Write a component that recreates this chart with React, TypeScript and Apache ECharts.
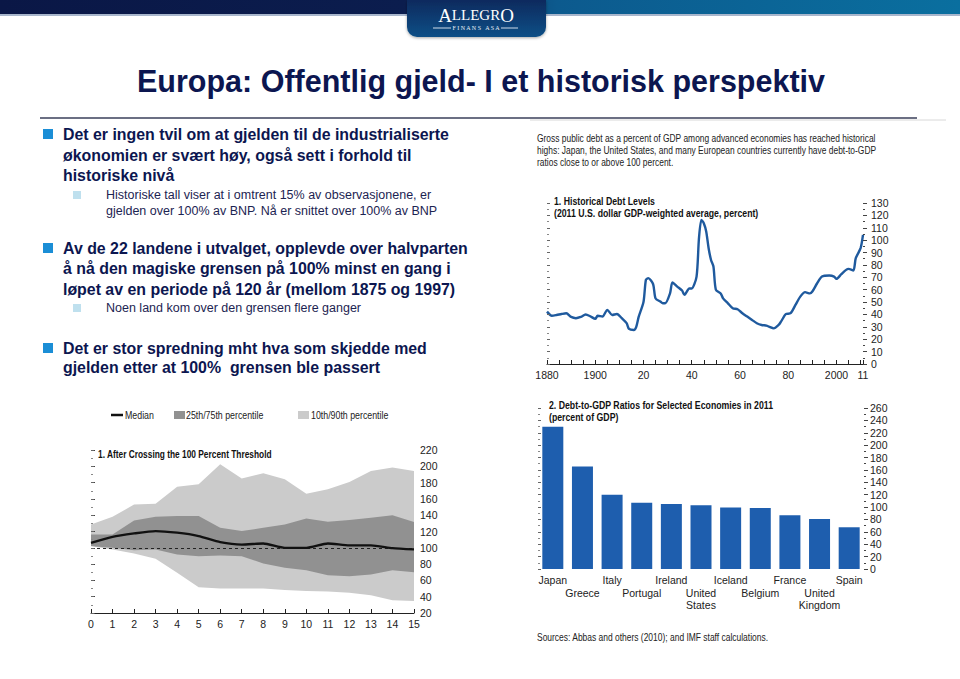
import React, { useEffect, useRef } from "react";
import * as echarts from "echarts";

// ---------- DATA ----------
const histYears = [1880,1882,1884,1886,1888,1890,1892,1894,1896,1898,1900,1901,1903,1905,1907,1909,1911,1913,1914,1916,1917,1918,1920,1921,1922,1924,1925,1927,1928,1929,1931,1932,1934,1936,1937,1939,1940,1942,1943,1944,1945,1946,1947,1948,1949,1950,1952,1953,1955,1957,1959,1961,1963,1965,1967,1969,1971,1972,1974,1976,1977,1979,1981,1983,1985,1987,1989,1990,1992,1994,1997,1999,2000,2002,2004,2005,2007,2008,2010,2011];
const histDebt = [42.3,39,39.6,40.4,41,38,37,38,40,38.5,36.4,39,38.3,43.7,39.6,40.4,37,33,28.3,27.5,30,38,50,68,69.3,64.4,53,50.4,49,49,57,65.8,62.5,59.3,55.8,61,61,70.6,101.6,116.4,113.7,107,93.5,84,78.7,60,57,53,49,45,44.2,41,38.3,35.6,32.9,31.5,31,30.2,28.8,31.5,34.2,40.2,41,47.7,54.4,58,57,58.5,65.2,70.6,71.4,70.6,68.7,72.5,76,76.8,75.5,85.4,93.5,104.3];
const histLabelValues = [1880, 1900, 1920, 1940, 1960, 1980, 2000, 2011];
const histLabelTexts = ["1880", "1900", "20", "40", "60", "80", "2000", "11"];

const yearsAfter = [0,1,2,3,4,5,6,7,8,9,10,11,12,13,14,15];
const p90 = [128.7,138,153,154,175,178,202.6,185,191.4,184,166.4,171.8,180.8,194.3,198.4,194.3];
const p75 = [116.4,116.4,133.6,138,139,139,124.6,120.5,124.6,128.7,136,132,134,137,139.8,131.6];
const median = [106,113.5,117.6,120.5,118.5,114.4,107,104,105.3,100,100,105.3,102.9,102.9,99.6,98];
const p25 = [102,100,97,98,91.8,89.7,90.6,89.7,80.7,75.4,72.5,66.4,65.2,67.2,72.5,70];
const p10 = [102,98,93,86.5,69.3,51.6,50,50,50,48.3,47,46.3,44.7,41.8,35.6,34.8];

const countries = ["Japan","Greece","Italy","Portugal","Ireland","United States","Iceland","Belgium","France","United Kingdom","Spain"];
const debt2011 = [229.8,165.4,120.1,106.8,105.0,102.9,99.2,98.5,86.8,80.8,67.4];

// ---------- STYLE ----------
const CF = "'Liberation Sans', Arial, sans-serif";
const SF = "'Liberation Sans', Arial, sans-serif";
const NAVY = "#0c1650";
const LIGHT = "#cbcbcb";
const DARK = "#919191";

function txt(text: string, x: number, y: number, size: number, opts: any = {}) {
  return {
    type: "text",
    x,
    y,
    scaleX: opts.scaleX || 1,
    silent: true,
    style: {
      text,
      fontSize: size,
      fontFamily: opts.family || SF,
      fontWeight: opts.bold ? "bold" : "normal",
      fill: opts.fill || NAVY,
      textAlign: opts.align || "left",
      textVerticalAlign: "middle",
    },
  };
}

export default function App() {
  const ref = useRef<HTMLDivElement>(null);
  useEffect(() => {
    if (!ref.current) return;
    const chart = echarts.init(ref.current, null, { renderer: "svg" });

    const labelStyle = { fontFamily: CF, fontSize: 10.5, color: "#222" };
    const tickLine = { color: "#444", width: 1 };

    const graphics: any[] = [];
    // header bar
    graphics.push({
      type: "rect",
      shape: { x: 0, y: 0, width: 960, height: 15 },
      style: {
        fill: new echarts.graphic.LinearGradient(0, 0, 1, 0, [
          { offset: 0, color: "#0a1746" },
          { offset: 0.42, color: "#0b1d4e" },
          { offset: 0.58, color: "#0c5a8e" },
          { offset: 1, color: "#0a6f9f" },
        ]),
      },
      silent: true,
    });
    graphics.push({
      type: "rect",
      shape: { x: 0, y: 14, width: 960, height: 2 },
      style: { fill: "#a8b6cc" },
      silent: true,
    });
    graphics.push({
      type: "rect",
      shape: { x: 407, y: 0, width: 139, height: 37, r: [0, 0, 10, 10] },
      style: {
        fill: new echarts.graphic.LinearGradient(0, 0, 0, 1, [
          { offset: 0, color: "#0f2a5e" },
          { offset: 1, color: "#0e4f86" },
        ]),
        shadowBlur: 3,
        shadowColor: "rgba(0,0,0,0.35)",
        shadowOffsetY: 1,
      },
      silent: true,
    });
    graphics.push({
      type: "text",
      x: 476,
      y: 15,
      silent: true,
      style: {
        text: "{a|A}{b|LLEGR}{a|O}",
        fontFamily: "'Liberation Serif', 'DejaVu Serif', serif",
        fill: "#ffffff",
        textAlign: "center",
        textVerticalAlign: "middle",
        rich: {
          a: { fontSize: 19, fill: "#ffffff", fontFamily: "'Liberation Serif', serif" },
          b: { fontSize: 15, fill: "#ffffff", fontFamily: "'Liberation Serif', serif" },
        },
      },
    });
    graphics.push({
      type: "text",
      x: 476,
      y: 28,
      silent: true,
      style: {
        text: "F I N A N S   A S A",
        fontSize: 6,
        fontFamily: "'Liberation Serif', serif",
        fill: "#e8eef6",
        textAlign: "center",
        textVerticalAlign: "middle",
      },
    });
    graphics.push({ type: "line", shape: { x1: 433, y1: 28, x2: 451, y2: 28 }, style: { stroke: "#d0dbe8", lineWidth: 1 }, silent: true });
    graphics.push({ type: "line", shape: { x1: 501, y1: 28, x2: 518, y2: 28 }, style: { stroke: "#d0dbe8", lineWidth: 1 }, silent: true });

    // title
    graphics.push(txt("Europa: Offentlig gjeld- I et historisk perspektiv", 481, 81, 30.5, { bold: true, align: "center" }));
    graphics.push({ type: "line", shape: { x1: 40, y1: 118, x2: 917, y2: 118 }, style: { stroke: "#3a3f5a", lineWidth: 1.5 }, silent: true });
    graphics.push({ type: "line", shape: { x1: 530, y1: 120, x2: 946, y2: 120 }, style: { stroke: "#d8d8d8", lineWidth: 1 }, silent: true });

    // bullets
    const mainBullet = (y: number) => ({
      type: "rect",
      shape: { x: 43, y: y - 5, width: 10, height: 10 },
      style: { fill: "#1b8ed6" },
      silent: true,
    });
    const subBullet = (y: number) => ({
      type: "rect",
      shape: { x: 73, y: y - 4, width: 8, height: 8 },
      style: { fill: "#bfe0ee" },
      silent: true,
    });
    const B = 15.9;
    graphics.push(mainBullet(134));
    graphics.push(txt("Det er ingen tvil om at gjelden til de industrialiserte", 63, 134, B, { bold: true }));
    graphics.push(txt("økonomien er svært høy, også sett i forhold til", 63, 155, B, { bold: true }));
    graphics.push(txt("historiske nivå", 63, 175, B, { bold: true }));
    graphics.push(subBullet(195));
    graphics.push(txt("Historiske tall viser at i omtrent 15% av observasjonene, er", 106, 195, 12.5, { fill: "#1c2452" }));
    graphics.push(txt("gjelden over 100% av BNP. Nå er snittet over 100% av BNP", 106, 211, 12.5, { fill: "#1c2452" }));
    graphics.push(mainBullet(248));
    graphics.push(txt("Av de 22 landene i utvalget, opplevde over halvparten", 63, 248, B, { bold: true }));
    graphics.push(txt("å nå den magiske grensen på 100% minst en gang i", 63, 268, B, { bold: true }));
    graphics.push(txt("løpet av en periode på 120 år (mellom 1875 og 1997)", 63, 289, B, { bold: true }));
    graphics.push(subBullet(308));
    graphics.push(txt("Noen land kom over den grensen flere ganger", 106, 308, 12.5, { fill: "#1c2452" }));
    graphics.push(mainBullet(348));
    graphics.push(txt("Det er stor spredning mht hva som skjedde med", 63, 348, B, { bold: true }));
    graphics.push(txt("gjelden etter at 100%  grensen ble passert", 63, 367, B, { bold: true }));

    // right top intro text
    const cfill = { family: CF, fill: "#222", scaleX: 0.74 };
    graphics.push(txt("Gross public debt as a percent of GDP among advanced economies has reached historical", 537, 138, 11.4, cfill));
    graphics.push(txt("highs: Japan, the United States, and many European countries currently have debt-to-GDP", 537, 150, 11.4, cfill));
    graphics.push(txt("ratios close to or above 100 percent.", 537, 162, 11.4, cfill));

    // chart titles
    const tfill = { family: CF, fill: "#111", bold: true, scaleX: 0.76 };
    graphics.push(txt("1. Historical Debt Levels", 554, 201, 11.5, tfill));
    graphics.push(txt("(2011 U.S. dollar GDP-weighted average, percent)", 554, 213, 11.5, tfill));
    graphics.push(txt("1. After Crossing the 100 Percent Threshold", 98, 454, 11, tfill));
    graphics.push(txt("2. Debt-to-GDP Ratios for Selected Economies in 2011", 549, 405, 11.5, tfill));
    graphics.push(txt("(percent of GDP)", 549, 417, 11.5, tfill));
    graphics.push(txt("Sources: Abbas and others (2010); and IMF staff calculations.", 537, 637, 11, { family: CF, fill: "#222", scaleX: 0.77 }));

    // legend of band chart
    const lfill = { family: CF, fill: "#222", scaleX: 0.78 };
    graphics.push({ type: "line", shape: { x1: 111, y1: 415, x2: 123, y2: 415 }, style: { stroke: "#111", lineWidth: 2.5 }, silent: true });
    graphics.push(txt("Median", 125, 415, 11.3, lfill));
    graphics.push({ type: "rect", shape: { x: 174, y: 411, width: 11, height: 8 }, style: { fill: DARK }, silent: true });
    graphics.push(txt("25th/75th percentile", 186, 415, 11.3, lfill));
    graphics.push({ type: "rect", shape: { x: 298, y: 411, width: 11, height: 8 }, style: { fill: LIGHT }, silent: true });
    graphics.push(txt("10th/90th percentile", 311, 415, 11.3, lfill));

    const rightY = (grid: number, min: number, max: number, interval: number, margin: number) => ({
      type: "value",
      gridIndex: grid,
      position: "right",
      min,
      max,
      interval,
      z: 10,
      axisLine: { show: false },
      axisTick: { show: true, length: 4, lineStyle: tickLine },
      minorTick: { show: true, splitNumber: 2, length: 2, lineStyle: tickLine },
      axisLabel: { ...labelStyle, margin },
      splitLine: { show: false },
    });
    const leftY = (grid: number, min: number, max: number, interval: number) => ({
      type: "value",
      gridIndex: grid,
      position: "left",
      min,
      max,
      interval,
      z: 10,
      axisLine: { show: false },
      axisTick: { show: true, inside: true, length: 3, lineStyle: { color: "#666" } },
      minorTick: { show: true, splitNumber: 2, length: 2, lineStyle: { color: "#888" } },
      axisLabel: { show: false },
      splitLine: { show: false },
    });

    const band = (vals: number[], color: string, z: number) => ({
      type: "line",
      xAxisIndex: 1,
      yAxisIndex: 2,
      data: vals.map((v, i) => [yearsAfter[i], v]),
      symbol: "none",
      lineStyle: { width: 0, opacity: 0 },
      areaStyle: { color, opacity: 1, origin: "start" },
      silent: true,
      z,
    });

    const option: any = {
      animation: false,
      backgroundColor: "#ffffff",
      graphic: { elements: graphics },
      grid: [
        { left: 547, top: 203, width: 316, height: 161 },
        { left: 91, top: 450, width: 323, height: 163 },
        { left: 538, top: 408, width: 326, height: 161 },
      ],
      xAxis: [
        {
          type: "value",
          gridIndex: 0,
          min: 1880,
          max: 2011,
          interval: 5,
          axisLine: { show: true, lineStyle: { color: "#222", width: 1 } },
          axisTick: { show: true, inside: true, length: 4, lineStyle: { color: "#222" } },
          axisLabel: {
            ...labelStyle,
            margin: 5,
            customValues: histLabelValues,
            formatter: (v: number) => {
              const i = histLabelValues.indexOf(Math.round(v));
              return i >= 0 ? histLabelTexts[i] : "";
            },
          },
          splitLine: { show: false },
        },
        {
          type: "value",
          gridIndex: 1,
          min: 0,
          max: 15,
          interval: 1,
          z: 10,
          axisLine: { show: true, lineStyle: { color: "#222", width: 1 } },
          axisTick: { show: true, inside: true, length: 4, lineStyle: { color: "#222" } },
          axisLabel: { ...labelStyle, margin: 5 },
          splitLine: { show: false },
        },
        {
          type: "category",
          gridIndex: 2,
          data: countries,
          axisLine: { show: false },
          axisTick: { show: false },
          axisLabel: {
            ...labelStyle,
            interval: 0,
            margin: 5,
            lineHeight: 12.5,
            verticalAlign: "top",
            formatter: (v: string, i: number) => {
              const t = v.replace(" ", "\n");
              return i % 2 === 1 ? "\n" + t : t;
            },
          },
        },
      ],
      yAxis: [
        rightY(0, 0, 130, 10, 8),
        leftY(0, 0, 130, 10),
        rightY(1, 20, 220, 20, 6),
        leftY(1, 20, 220, 20),
        rightY(2, 0, 260, 20, 6),
        leftY(2, 0, 260, 20),
      ],
      series: [
        {
          type: "line",
          xAxisIndex: 0,
          yAxisIndex: 0,
          data: histYears.map((y, i) => [y, histDebt[i]]),
          symbol: "none",
          smooth: 0.25,
          lineStyle: { color: "#1f5a9e", width: 2.4 },
        },
        band(p90, LIGHT, 1),
        band(p75, DARK, 2),
        band(p25, LIGHT, 3),
        band(p10, "#ffffff", 4),
        {
          type: "line",
          xAxisIndex: 1,
          yAxisIndex: 2,
          data: median.map((v, i) => [yearsAfter[i], v]),
          symbol: "none",
          smooth: 0.2,
          lineStyle: { color: "#111", width: 2.3 },
          z: 6,
          markLine: {
            silent: true,
            symbol: "none",
            label: { show: false },
            lineStyle: { color: "#222", type: [3, 3], width: 1 },
            data: [{ yAxis: 100 }],
          },
        },
        {
          type: "bar",
          xAxisIndex: 2,
          yAxisIndex: 4,
          data: debt2011,
          barWidth: 21,
          itemStyle: { color: "#1e5eae" },
        },
      ],
    };
    chart.setOption(option);
    return () => chart.dispose();
  }, []);
  return (
    <div
      ref={ref}
      style={{ position: "absolute", left: 0, top: 0, width: 960, height: 679 }}
    />
  );
}
